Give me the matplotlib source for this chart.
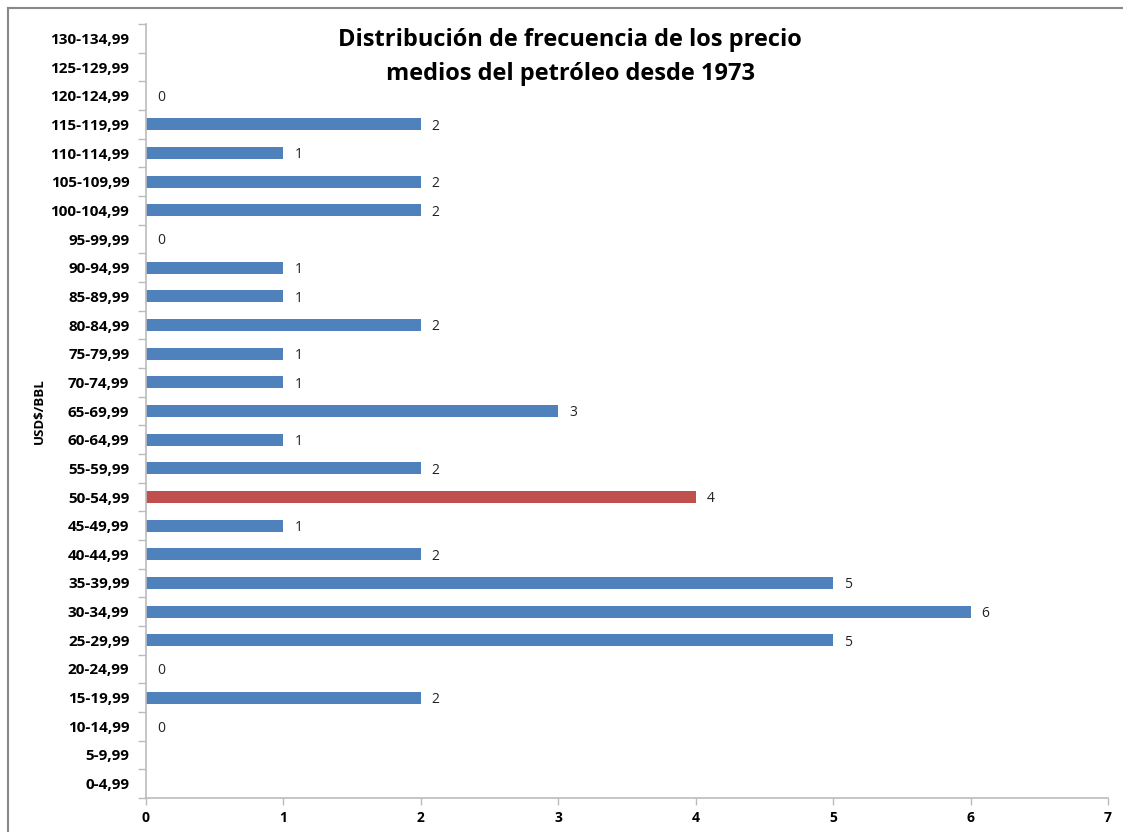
import matplotlib
matplotlib.use("Agg")
import matplotlib.pyplot as plt
from matplotlib.lines import Line2D
import numpy as np

plt.rcParams['font.family'] = ['Open Sans', 'DejaVu Sans']

# Price ranges (USD$/BBL) and number of years falling in each range
categories = ["0-4,99", "5-9,99", "10-14,99", "15-19,99", "20-24,99", "25-29,99",
              "30-34,99", "35-39,99", "40-44,99", "45-49,99", "50-54,99", "55-59,99",
              "60-64,99", "65-69,99", "70-74,99", "75-79,99", "80-84,99", "85-89,99",
              "90-94,99", "95-99,99", "100-104,99", "105-109,99", "110-114,99",
              "115-119,99", "120-124,99", "125-129,99", "130-134,99"]
counts = [None, None, 0, 2, 0, 5, 6, 5, 2, 1, 4, 2, 1, 3, 1, 1, 2, 1, 1, 0,
          2, 2, 1, 2, 0, None, None]
highlight = "50-54,99"
x_ticks = [0, 1, 2, 3, 4, 5, 6, 7]

blue = "#4F81BD"
red = "#C0504D"

fig = plt.figure(figsize=(11.23, 8.32), dpi=100)
ax = fig.add_axes([146 / 1123, 1 - 798 / 832, (1108 - 146) / 1123, (798 - 24) / 832])

y = np.arange(len(categories))
vals = np.array([np.nan if v is None else v for v in counts], dtype=float)
colors = [red if c == highlight else blue for c in categories]
ax.barh(y, np.nan_to_num(vals), height=0.43, color=colors, zorder=2)

for yi, v in zip(y, counts):
    if v is not None:
        ax.text(v + 0.08, yi - 0.06, f"{v}", va="center", ha="left", fontsize=10, color="#222222")

ax.set_xlim(0, 7)
ax.set_ylim(-0.5, len(categories) - 0.5)
ax.set_xticks(x_ticks)
ax.set_xticklabels([str(t) for t in x_ticks], fontsize=10, fontweight="bold")
ax.set_yticks(y)
ax.set_yticklabels(categories, fontsize=11, fontweight="bold")
ax.set_yticks(np.arange(-0.5, len(categories), 1.0), minor=True)
ax.tick_params(axis="y", which="major", length=0, pad=12)
ax.tick_params(axis="y", which="minor", length=6, color="#BBBBBB", width=1)
ax.tick_params(axis="x", which="major", length=5, color="#BBBBBB", width=1, pad=4)

for side in ["top", "right"]:
    ax.spines[side].set_visible(False)
for side in ["left", "bottom"]:
    ax.spines[side].set_color("#BBBBBB")
    ax.spines[side].set_linewidth(1.2)

ax.set_ylabel("USD$/BBL", fontsize=9.5, fontweight="bold")
ax.yaxis.set_label_coords(-0.104, 0.5)

fig.text(570 / 1123, 1 - 57 / 832,
         "Distribución de frecuencia de los precio\nmedios del petróleo desde 1973",
         ha="center", va="center", fontsize=17, fontweight="bold", linespacing=1.5)

# chart frame (top and left edges)
fig.add_artist(Line2D([8 / 1123, 8 / 1123], [0, 1 - 8 / 832], transform=fig.transFigure,
                      color="#888888", linewidth=1.5))
fig.add_artist(Line2D([8 / 1123, 1], [1 - 8 / 832, 1 - 8 / 832], transform=fig.transFigure,
                      color="#888888", linewidth=1.5))

fig.savefig("out.png", dpi=100)
